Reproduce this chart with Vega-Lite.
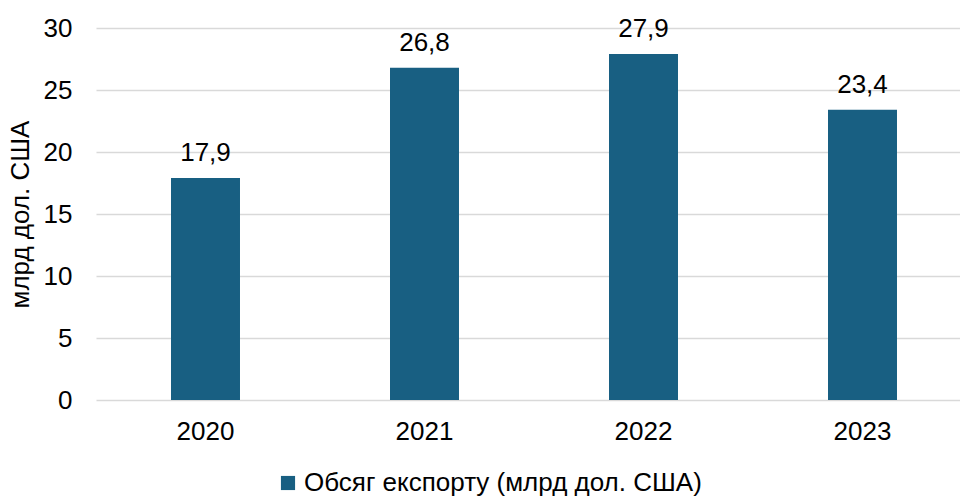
{
  "$schema": "https://vega.github.io/schema/vega-lite/v6.json",
  "width": 864,
  "height": 372,
  "autosize": {"type": "none"},
  "padding": {"left": 96, "top": 28, "right": 0, "bottom": 96},
  "background": "white",
  "config": {
    "font": "Liberation Sans",
    "view": {"stroke": null},
    "axis": {"labelFont": "Liberation Sans", "titleFont": "Liberation Sans", "labelColor": "#000000", "titleColor": "#000000"}
  },
  "data": {
    "values": [
      {"year": "2020", "value": 17.9, "label": "17,9", "series": "Обсяг експорту (млрд дол. США)"},
      {"year": "2021", "value": 26.8, "label": "26,8", "series": "Обсяг експорту (млрд дол. США)"},
      {"year": "2022", "value": 27.9, "label": "27,9", "series": "Обсяг експорту (млрд дол. США)"},
      {"year": "2023", "value": 23.4, "label": "23,4", "series": "Обсяг експорту (млрд дол. США)"}
    ]
  },
  "encoding": {
    "x": {
      "field": "year",
      "type": "nominal",
      "sort": null,
      "scale": {"range": [0, 876], "paddingInner": 0.685, "paddingOuter": 0.3425},
      "axis": {"title": null, "labelAngle": 0, "labelFontSize": 26, "labelPadding": 18, "ticks": false, "domain": false, "grid": false}
    },
    "y": {
      "field": "value",
      "type": "quantitative",
      "scale": {"domain": [0, 30], "nice": false},
      "axis": {
        "title": "млрд дол. США",
        "titleFontSize": 26,
        "titleFontWeight": "normal",
        "titlePadding": 10,
        "values": [0, 5, 10, 15, 20, 25, 30],
        "labelFontSize": 26,
        "labelPadding": 24,
        "ticks": false,
        "domain": false,
        "grid": true,
        "gridColor": "#d9d9d9",
        "gridWidth": 1.5
      }
    }
  },
  "layer": [
    {
      "mark": {"type": "bar", "color": "#185f82"},
      "encoding": {
        "color": {
          "field": "series",
          "type": "nominal",
          "scale": {"range": ["#185f82"]},
          "legend": {
            "title": null,
            "orient": "none",
            "legendX": 179,
            "legendY": 442,
            "symbolType": "square",
            "symbolSize": 200,
            "symbolStrokeWidth": 0,
            "labelFontSize": 26,
            "labelColor": "#000000",
            "labelFont": "Liberation Sans",
            "labelLimit": 700,
            "labelOffset": 3
          }
        }
      }
    },
    {
      "mark": {"type": "text", "fontSize": 26, "dy": -12, "baseline": "bottom", "color": "#000000"},
      "encoding": {"text": {"field": "label"}}
    }
  ]
}
